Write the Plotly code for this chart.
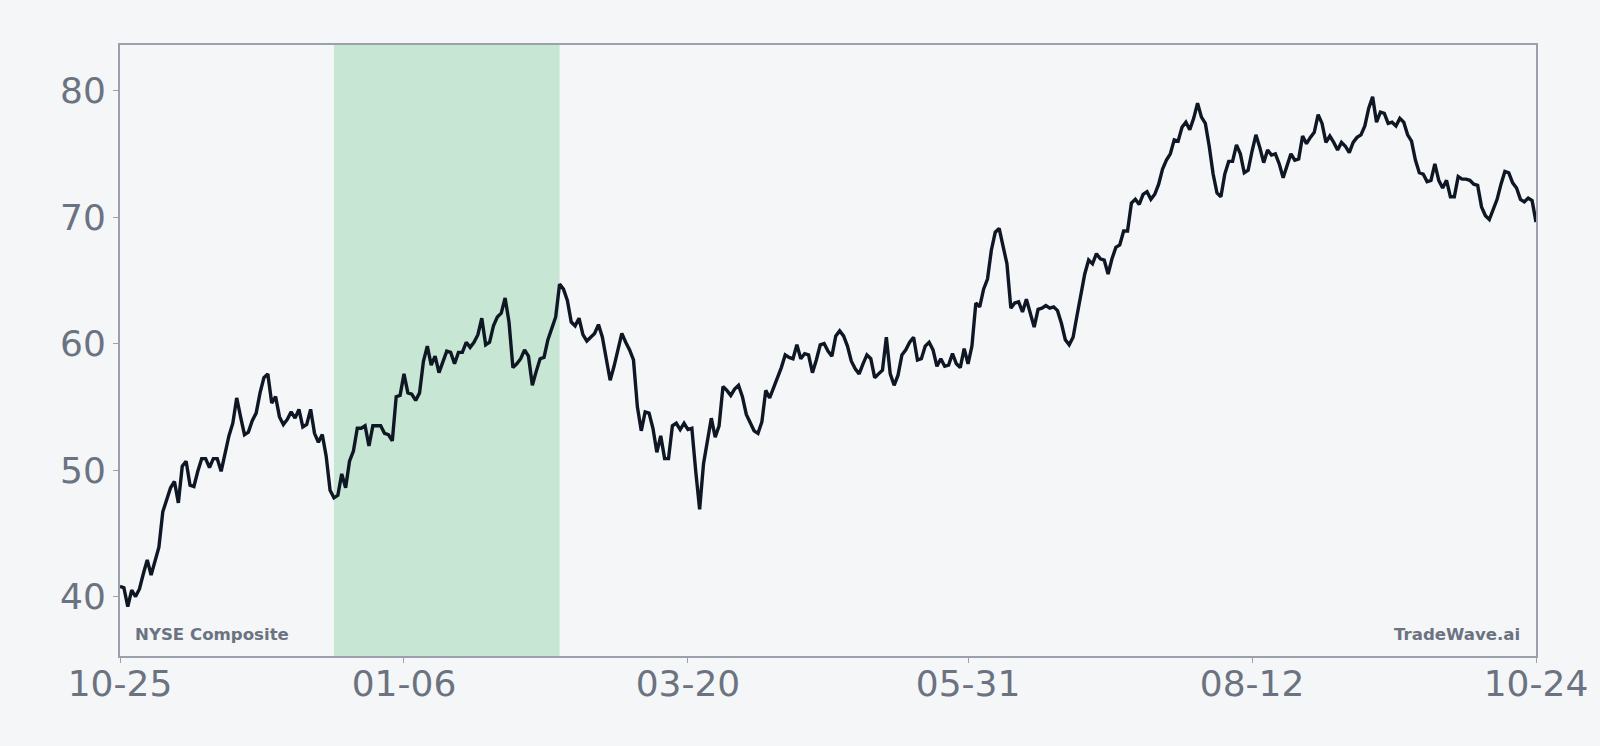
import pandas as pd
import plotly.graph_objects as go

start_date = "2022-10-25"
values = [
    40.8, 40.7, 39.2, 40.5, 40.0, 40.6, 41.8, 42.9, 41.7, 42.8,
    43.9, 46.7, 47.7, 48.6, 49.1, 47.4, 50.3, 50.7, 48.8, 48.7,
    49.9, 50.9, 50.9, 50.2, 50.9, 50.9, 49.9, 51.4, 52.7, 53.7,
    55.7, 54.2, 52.8, 53.0, 53.9, 54.5, 56.1, 57.3, 57.6, 55.3,
    55.8, 54.2, 53.6, 54.0, 54.6, 54.1, 54.8,
    53.4, 53.6, 54.8, 52.9, 52.2, 52.8, 51.1, 48.4, 47.8, 48.0,
    49.7, 48.6, 50.7, 51.5, 53.3, 53.3, 53.5, 51.9, 53.5, 53.5,
    53.5, 52.9, 52.8, 52.3, 55.8, 55.9, 57.6, 56.1, 56.0, 55.5,
    56.1, 58.6, 59.8, 58.3, 59.0, 57.7, 58.6, 59.4, 59.3, 58.4,
    59.3, 59.3, 60.1, 59.7, 60.1, 60.7,
    62.0, 59.9, 60.1, 61.4, 62.1, 62.4, 63.6, 61.7, 58.1, 58.4,
    58.8, 59.5, 59.0, 56.7, 57.8, 58.8, 58.9, 60.3, 61.2, 62.1,
    64.7, 64.3, 63.4, 61.7, 61.4, 62.0, 60.7, 60.2, 60.5, 60.8,
    61.5, 60.5, 58.8, 57.1, 58.2, 59.5, 60.8, 60.1, 59.5, 58.7,
    55.0, 53.1, 54.6, 54.5, 53.3, 51.4, 52.7,
    50.9, 50.9, 53.5, 53.7, 53.2, 53.7, 53.2, 53.3, 49.9, 46.9,
    50.5, 52.4, 54.1, 52.6, 53.5, 56.6, 56.3, 55.9, 56.4, 56.7,
    55.8, 54.4, 53.8, 53.1, 52.9, 53.8, 56.3, 55.7, 56.5, 57.3,
    58.1, 59.1, 58.9, 58.8, 59.9, 58.8, 59.2, 59.1, 57.7, 58.7,
    59.9, 60.0, 59.4, 59.0, 60.6, 61.0,
    60.6, 59.8, 58.6, 58.0, 57.6, 58.4, 59.1, 58.8, 57.3, 57.6,
    57.9, 60.5, 57.6, 56.7, 57.5, 59.1, 59.5, 60.1, 60.5, 58.7,
    58.8, 59.8, 60.1, 59.5, 58.2, 58.8, 58.2, 58.3, 59.2, 58.4,
    58.1, 59.6, 58.4, 59.8, 63.2, 62.9, 64.3, 65.1, 67.4, 68.8,
    69.1, 67.7, 66.3, 62.8, 63.2, 63.3,
    62.5, 63.5, 62.5, 61.3, 62.7, 62.8, 63.0, 62.8, 62.9, 62.6,
    61.6, 60.3, 59.9, 60.5, 62.2, 64.0, 65.5, 66.6, 66.3, 67.1,
    66.7, 66.6, 65.5, 66.7, 67.6, 67.8, 68.9, 68.9, 71.1, 71.4,
    71.0, 71.8, 72.0, 71.4, 71.8, 72.6, 73.8, 74.5, 75.0, 76.1,
    76.0, 77.1, 77.5, 76.9, 77.8, 79.0,
    77.9, 77.4, 75.6, 73.4, 71.9, 71.6, 73.4, 74.4, 74.4, 75.7,
    75.0, 73.5, 73.7, 75.2, 76.5, 75.5, 74.3, 75.3, 74.9, 75.0,
    74.2, 73.1, 74.1, 75.0, 74.5, 74.6, 76.4, 75.8, 76.3, 76.7,
    78.1, 77.4, 75.9, 76.4, 75.9, 75.3, 75.9, 75.6, 75.1, 75.9,
    76.3, 76.5, 77.2, 78.6, 79.5, 77.5, 78.3,
    78.2, 77.4, 77.5, 77.2, 77.8, 77.5, 76.5, 76.0, 74.5, 73.5,
    73.4, 72.8, 72.9, 74.2, 72.9, 72.3, 72.9, 71.6, 71.6, 73.2,
    73.0, 73.0, 72.9, 72.6, 72.5, 70.8, 70.1, 69.8, 70.6, 71.4,
    72.6, 73.6, 73.5, 72.7, 72.3, 71.4, 71.2, 71.5, 71.3, 69.6,
]
dates = pd.date_range(start_date, periods=len(values), freq="D")

tick_dates = ["2022-10-25", "2023-01-06", "2023-03-20", "2023-05-31", "2023-08-12", "2023-10-24"]
tick_labels = ["10-25", "01-06", "03-20", "05-31", "08-12", "10-24"]
y_ticks = [40, 50, 60, 70, 80]

shade_start = "2022-12-19"
shade_end = "2023-02-15"

label_left = "NYSE Composite"
label_right = "TradeWave.ai"

bg = "#f4f6f8"
axis_gray = "#9ca0ab"
text_gray = "#6b7280"

fig = go.Figure()
fig.add_vrect(x0=shade_start, x1=shade_end, fillcolor="#c8e6d4", opacity=1,
              line_width=0, layer="below")
fig.add_trace(go.Scatter(x=dates, y=values, mode="lines",
                         line=dict(color="#0f1724", width=3.4), showlegend=False))

fig.update_layout(
    width=1600, height=746,
    paper_bgcolor=bg, plot_bgcolor=bg,
    margin=dict(l=120, r=64, t=45, b=90),
    font=dict(family="DejaVu Sans", color=text_gray),
    xaxis=dict(range=[dates[0], dates[-1]], tickvals=tick_dates, ticktext=tick_labels,
               showgrid=False, zeroline=False, showline=True, linecolor=axis_gray,
               linewidth=2, mirror=True, ticks="outside", ticklen=5, tickcolor=axis_gray,
               ticklabelstandoff=-10,
               tickfont=dict(size=36, color=text_gray)),
    yaxis=dict(range=[35.3, 83.6], tickvals=y_ticks,
               showgrid=False, zeroline=False, showline=True, linecolor=axis_gray,
               linewidth=2, mirror=True, ticks="outside", ticklen=5, tickcolor=axis_gray,
               tickfont=dict(size=36, color=text_gray)),
    annotations=[
        dict(text=f"<b>{label_left}</b>", xref="paper", yref="paper", x=0, y=0,
             xanchor="left", yanchor="middle", xshift=13, yshift=22, showarrow=False,
             font=dict(size=16.6, color=text_gray, family="DejaVu Sans")),
        dict(text=f"<b>{label_right}</b>", xref="paper", yref="paper", x=1, y=0,
             xanchor="right", yanchor="middle", xshift=-14, yshift=22, showarrow=False,
             font=dict(size=16.6, color=text_gray, family="DejaVu Sans")),
    ],
)

fig.write_html(
    "out.html",
    config={"displayModeBar": False},
    post_script="document.body.style.margin='0';document.body.style.overflow='hidden';"
                "document.body.style.background='" + bg + "';",
)
